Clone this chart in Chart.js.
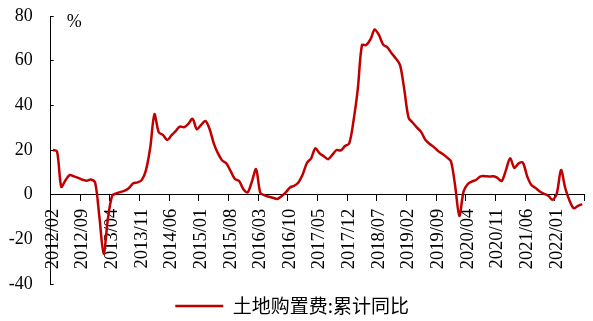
<!DOCTYPE html>
<html>
<head>
<meta charset="utf-8">
<script src="https://cdn.jsdelivr.net/npm/chart.js@4.4.1/dist/chart.umd.min.js"></script>
<style>
html,body{margin:0;padding:0;background:#fff;}
#wrap{width:593px;height:321px;position:relative;}
</style>
</head>
<body>
<div id="wrap"><canvas id="c" width="593" height="321"></canvas></div>
<script>
// Categories: monthly, 2012/02 .. 2022/07
const categories = [
  '2012/02','2012/03','2012/04','2012/05','2012/06','2012/07','2012/08','2012/09','2012/10','2012/11','2012/12',
  '2013/01','2013/02','2013/03','2013/04','2013/05','2013/06','2013/07','2013/08','2013/09','2013/10','2013/11','2013/12',
  '2014/01','2014/02','2014/03','2014/04','2014/05','2014/06','2014/07','2014/08','2014/09','2014/10','2014/11','2014/12',
  '2015/01','2015/02','2015/03','2015/04','2015/05','2015/06','2015/07','2015/08','2015/09','2015/10','2015/11','2015/12',
  '2016/01','2016/02','2016/03','2016/04','2016/05','2016/06','2016/07','2016/08','2016/09','2016/10','2016/11','2016/12',
  '2017/01','2017/02','2017/03','2017/04','2017/05','2017/06','2017/07','2017/08','2017/09','2017/10','2017/11','2017/12',
  '2018/01','2018/02','2018/03','2018/04','2018/05','2018/06','2018/07','2018/08','2018/09','2018/10','2018/11','2018/12',
  '2019/01','2019/02','2019/03','2019/04','2019/05','2019/06','2019/07','2019/08','2019/09','2019/10','2019/11','2019/12',
  '2020/01','2020/02','2020/03','2020/04','2020/05','2020/06','2020/07','2020/08','2020/09','2020/10','2020/11','2020/12',
  '2021/01','2021/02','2021/03','2021/04','2021/05','2021/06','2021/07','2021/08','2021/09','2021/10','2021/11','2021/12',
  '2022/01','2022/02','2022/03','2022/04','2022/05','2022/06','2022/07'
];

const seriesName = '土地购置费:累计同比';

// 土地购置费:累计同比 (%)
const values = [
  20, 19.3, 3.5, 6.5, 8.8, 8.2, 7.5, 6.7, 6.2, 6.8, 5.3,
  -10, -26.5, -11, -0.5, 0.6, 1.2, 1.8, 3, 5.1, 5.5, 6.5, 11,
  21, 36, 28, 26.8, 24.5, 26.5, 28.5, 30.5, 30.2, 31.7, 34, 29.3,
  31.2, 33, 29.5, 23, 18.5, 15.3, 14, 10.5, 7, 6.1, 2.4, 1,
  5.8, 11.4, 0.8, -0.3, -0.9, -1.4, -1.9, -0.7, 1, 3.2, 4, 5.5,
  9, 14.2, 16.3, 20.8, 18.5, 17.2, 15.9, 17.8, 20, 19.8, 21.8, 23,
  33, 47, 67, 67, 69.5, 74, 71.5, 67.2, 66, 63.3, 61, 58,
  47, 34.5, 32.2, 30, 28, 24.5, 22.7, 21.3, 19.5, 18.3, 16.8, 15,
  4, -9.5, 1.5, 4.8, 5.9, 6.7, 8.2, 8.3, 8.1, 8.2, 7.5, 6.1,
  11, 16.3, 12, 14, 14.3, 8.3, 4.3, 3, 1.4, 0.4, -0.5, -2.3,
  0.5, 11, 3, -2.6, -6.1, -5, -4.2
];

const yMin = -40;
const yMax = 80;
const yStep = 20;
const xLabelEvery = 7;
const unitLabel = '%';

const unitPlugin = {
  id: 'unitLabel',
  afterDraw(chart) {
    const {ctx, chartArea} = chart;
    ctx.save();
    ctx.font = '18px "Liberation Serif"';
    ctx.fillStyle = '#000';
    ctx.textAlign = 'left';
    ctx.textBaseline = 'middle';
    ctx.fillText(unitLabel, chartArea.left + 16, chartArea.top + 6);
    ctx.restore();
  }
};

new Chart(document.getElementById('c'), {
  type: 'line',
  data: {
    labels: categories,
    datasets: [{
      label: seriesName,
      data: values,
      borderColor: '#C00000',
      backgroundColor: '#C00000',
      borderWidth: 2.5,
      pointRadius: 0,
      pointHoverRadius: 0,
      pointStyle: 'line',
      tension: 0.3,
      fill: false
    }]
  },
  options: {
    responsive: false,
    devicePixelRatio: 1,
    animation: false,
    layout: { padding: { top: 16, right: 8.7, left: 0, bottom: 0 } },
    scales: {
      x: {
        type: 'category',
        position: { y: 0 },
        offset: true,
        grid: {
          offset: true,
          drawOnChartArea: false,
          drawTicks: true,
          tickLength: 6,
          lineWidth: 1,
          tickColor: (ctx) => (ctx.index === undefined || ctx.index % xLabelEvery === 0) ? '#000' : 'rgba(0,0,0,0)'
        },
        border: { display: true, color: '#000', width: 1 },
        ticks: {
          autoSkip: false,
          maxRotation: 90,
          minRotation: 90,
          padding: 8,
          color: '#000',
          font: { family: '"Liberation Serif"', size: 18.5 },
          callback: function(v, i) { return i % xLabelEvery === 0 ? this.getLabelForValue(v) : ''; }
        },
        afterFit: (s) => { s.paddingLeft = 0; s.paddingRight = 0; }
      },
      y: {
        min: yMin,
        max: yMax,
        ticks: {
          stepSize: yStep,
          padding: 21,
          color: '#000',
          font: { family: '"Liberation Serif"', size: 18 }
        },
        grid: { drawOnChartArea: false, drawTicks: true, tickLength: -3, tickColor: '#000' },
        border: { display: true, color: '#000', width: 1 },
        afterFit: (s) => { s.width = 50.7; s.paddingTop = 10; s.paddingBottom = 10; }
      }
    },
    plugins: {
      legend: {
        position: 'bottom',
        maxHeight: 37,
        labels: {
          usePointStyle: true,
          pointStyle: 'line',
          pointStyleWidth: 48,
          padding: 12.5,
          color: '#000',
          font: { family: '"Noto Sans CJK SC"', size: 19 }
        }
      },
      tooltip: { enabled: false }
    }
  },
  plugins: [unitPlugin]
});
</script>
</body>
</html>
